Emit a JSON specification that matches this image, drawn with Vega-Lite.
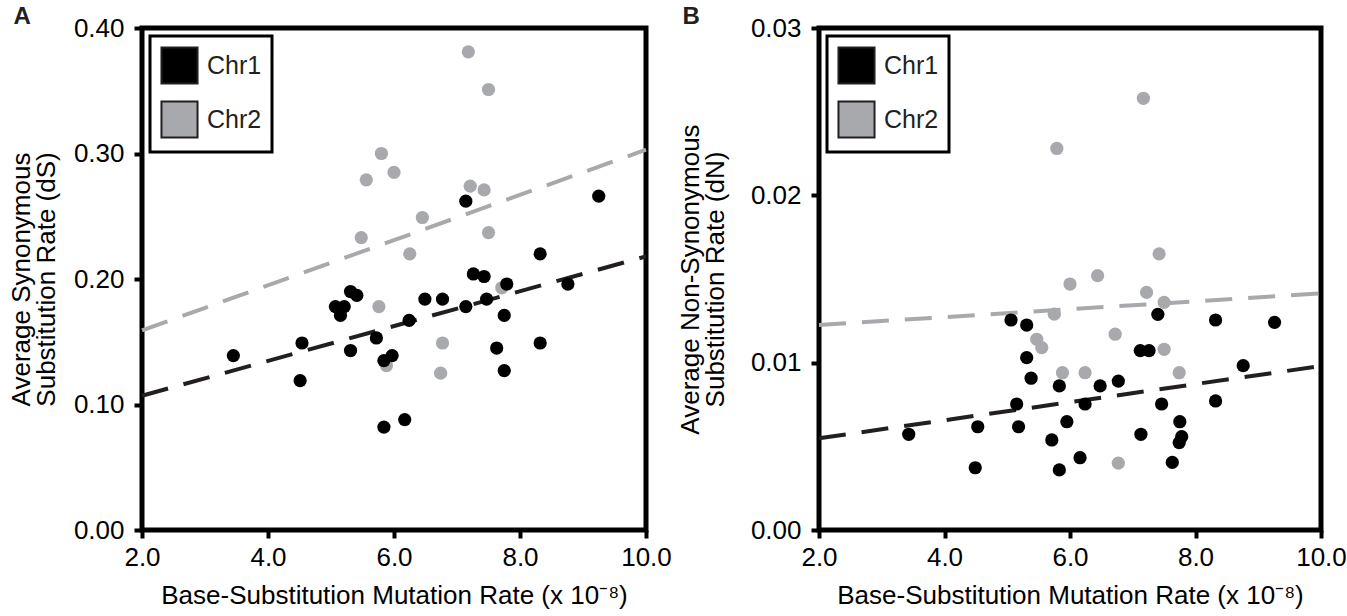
{
  "$schema": "https://vega.github.io/schema/vega-lite/v6.json",
  "padding": {"left": 5, "top": 2, "right": 2, "bottom": 2},
  "background": "white",
  "spacing": 0,
  "config": {
    "font": "Liberation Sans",
    "view": {"stroke": "black", "strokeWidth": 5},
    "axis": {
      "domain": false, "grid": false, "ticks": true, "tickSize": 8, "tickWidth": 4, "tickColor": "black",
      "labelFont": "Liberation Sans", "labelFontSize": 26, "labelColor": "black", "labelFlush": false, "labelPadding": 6,
      "titleFont": "Liberation Sans", "titleFontSize": 26, "titleFontWeight": "normal", "titleColor": "black", "titleLineHeight": 25
    },
    "axisY": {"labelPadding": 10},
    "legend": {
      "orient": "top-left", "offset": 8, "strokeColor": "black", "strokeWidth": 3, "fillColor": "white", "padding": 10,
      "symbolType": "square", "symbolSize": 1300, "labelFont": "Liberation Sans", "labelFontSize": 25, "labelColor": "#231f20",
      "rowPadding": 9, "labelOffset": 8, "symbolStrokeWidth": 2, "symbolStrokeColor": "#231f20", "symbolOpacity": 1
    },
    "title": {"font": "Liberation Sans", "fontSize": 24, "fontWeight": "bold", "anchor": "start", "color": "#231f20"}
  },
  "resolve": {"scale": {"color": "independent"}, "legend": {"color": "independent"}},
  "hconcat": [
    {
      "width": 504, "height": 502,
      "title": {"text": "A", "offset": -14, "dx": 5},
      "layer": [
        {
          "data": {"values": [
            {"x": 2, "y": 0.159, "chr": "Chr2"}, {"x": 10, "y": 0.303, "chr": "Chr2"},
            {"x": 2, "y": 0.107, "chr": "Chr1"}, {"x": 10, "y": 0.218, "chr": "Chr1"}
          ]},
          "transform": [{"filter": "datum.chr === 'Chr2'"}],
          "mark": {"type": "line", "strokeWidth": 4, "strokeDash": [27, 16], "strokeCap": "butt", "color": "#a7a9ac"},
          "encoding": {
            "x": {"field": "x", "type": "quantitative"},
            "y": {"field": "y", "type": "quantitative"}
          }
        },
        {
          "data": {"values": [
            {"x": 2, "y": 0.159, "chr": "Chr2"}, {"x": 10, "y": 0.303, "chr": "Chr2"},
            {"x": 2, "y": 0.107, "chr": "Chr1"}, {"x": 10, "y": 0.218, "chr": "Chr1"}
          ]},
          "transform": [{"filter": "datum.chr === 'Chr1'"}],
          "mark": {"type": "line", "strokeWidth": 4, "strokeDash": [27, 16], "strokeCap": "butt", "color": "#231f20"},
          "encoding": {
            "x": {"field": "x", "type": "quantitative"},
            "y": {"field": "y", "type": "quantitative"}
          }
        },
        {
          "data": {"values": [
            {"x": 7.18, "y": 0.381, "chr": "Chr2"}, {"x": 7.50, "y": 0.351, "chr": "Chr2"}, {"x": 5.80, "y": 0.300, "chr": "Chr2"},
            {"x": 5.56, "y": 0.279, "chr": "Chr2"}, {"x": 6.00, "y": 0.285, "chr": "Chr2"}, {"x": 7.21, "y": 0.274, "chr": "Chr2"},
            {"x": 7.43, "y": 0.271, "chr": "Chr2"}, {"x": 6.45, "y": 0.249, "chr": "Chr2"}, {"x": 5.48, "y": 0.233, "chr": "Chr2"},
            {"x": 7.50, "y": 0.237, "chr": "Chr2"}, {"x": 6.25, "y": 0.220, "chr": "Chr2"}, {"x": 7.71, "y": 0.193, "chr": "Chr2"},
            {"x": 5.76, "y": 0.178, "chr": "Chr2"}, {"x": 6.77, "y": 0.149, "chr": "Chr2"}, {"x": 6.74, "y": 0.125, "chr": "Chr2"},
            {"x": 5.88, "y": 0.131, "chr": "Chr2"},
            {"x": 7.14, "y": 0.262, "chr": "Chr1"}, {"x": 9.25, "y": 0.266, "chr": "Chr1"}, {"x": 8.32, "y": 0.220, "chr": "Chr1"},
            {"x": 7.26, "y": 0.204, "chr": "Chr1"}, {"x": 7.43, "y": 0.202, "chr": "Chr1"}, {"x": 7.79, "y": 0.196, "chr": "Chr1"},
            {"x": 8.76, "y": 0.196, "chr": "Chr1"}, {"x": 5.31, "y": 0.190, "chr": "Chr1"}, {"x": 5.41, "y": 0.187, "chr": "Chr1"},
            {"x": 6.49, "y": 0.184, "chr": "Chr1"}, {"x": 6.77, "y": 0.184, "chr": "Chr1"}, {"x": 7.47, "y": 0.184, "chr": "Chr1"},
            {"x": 7.14, "y": 0.178, "chr": "Chr1"}, {"x": 5.07, "y": 0.178, "chr": "Chr1"}, {"x": 5.21, "y": 0.178, "chr": "Chr1"},
            {"x": 5.15, "y": 0.171, "chr": "Chr1"}, {"x": 7.75, "y": 0.171, "chr": "Chr1"}, {"x": 6.24, "y": 0.167, "chr": "Chr1"},
            {"x": 5.72, "y": 0.153, "chr": "Chr1"}, {"x": 4.54, "y": 0.149, "chr": "Chr1"}, {"x": 3.45, "y": 0.139, "chr": "Chr1"},
            {"x": 5.31, "y": 0.143, "chr": "Chr1"}, {"x": 5.97, "y": 0.139, "chr": "Chr1"}, {"x": 5.84, "y": 0.135, "chr": "Chr1"},
            {"x": 7.63, "y": 0.145, "chr": "Chr1"}, {"x": 8.32, "y": 0.149, "chr": "Chr1"}, {"x": 7.75, "y": 0.127, "chr": "Chr1"},
            {"x": 4.51, "y": 0.119, "chr": "Chr1"}, {"x": 5.84, "y": 0.082, "chr": "Chr1"}, {"x": 6.17, "y": 0.088, "chr": "Chr1"}
          ]},
          "mark": {"type": "point", "filled": true, "shape": "circle", "size": 175, "opacity": 1},
          "encoding": {
            "x": {"field": "x", "type": "quantitative", "scale": {"domain": [2, 10], "nice": false, "zero": false},
                  "axis": {"values": [2, 4, 6, 8, 10], "format": ".1f", "title": "Base-Substitution Mutation Rate (x 10⁻⁸)", "titlePadding": 12}},
            "y": {"field": "y", "type": "quantitative", "scale": {"domain": [0, 0.4], "nice": false},
                  "axis": {"values": [0, 0.1, 0.2, 0.3, 0.4], "format": ".2f", "title": ["Average Synonymous", "Substitution Rate (dS)"], "titlePadding": 14}},
            "color": {"field": "chr", "type": "nominal", "scale": {"domain": ["Chr1", "Chr2"], "range": ["#000000", "#a7a9ac"]},
                      "legend": {"title": null}}
          }
        }
      ]
    },
    {
      "width": 502, "height": 502,
      "title": {"text": "B", "offset": -14, "dx": 5},
      "layer": [
        {
          "data": {"values": [
            {"x": 2, "y": 0.01225, "chr": "Chr2"}, {"x": 10, "y": 0.01414, "chr": "Chr2"},
            {"x": 2, "y": 0.00548, "chr": "Chr1"}, {"x": 10, "y": 0.00980, "chr": "Chr1"}
          ]},
          "transform": [{"filter": "datum.chr === 'Chr2'"}],
          "mark": {"type": "line", "strokeWidth": 4, "strokeDash": [27, 16], "strokeCap": "butt", "color": "#a7a9ac"},
          "encoding": {
            "x": {"field": "x", "type": "quantitative"},
            "y": {"field": "y", "type": "quantitative"}
          }
        },
        {
          "data": {"values": [
            {"x": 2, "y": 0.01225, "chr": "Chr2"}, {"x": 10, "y": 0.01414, "chr": "Chr2"},
            {"x": 2, "y": 0.00548, "chr": "Chr1"}, {"x": 10, "y": 0.00980, "chr": "Chr1"}
          ]},
          "transform": [{"filter": "datum.chr === 'Chr1'"}],
          "mark": {"type": "line", "strokeWidth": 4, "strokeDash": [27, 16], "strokeCap": "butt", "color": "#231f20"},
          "encoding": {
            "x": {"field": "x", "type": "quantitative"},
            "y": {"field": "y", "type": "quantitative"}
          }
        },
        {
          "data": {"values": [
            {"x": 7.17, "y": 0.0258, "chr": "Chr2"}, {"x": 5.79, "y": 0.0228, "chr": "Chr2"}, {"x": 7.42, "y": 0.0165, "chr": "Chr2"},
            {"x": 6.44, "y": 0.0152, "chr": "Chr2"}, {"x": 6.00, "y": 0.0147, "chr": "Chr2"}, {"x": 7.22, "y": 0.0142, "chr": "Chr2"},
            {"x": 7.50, "y": 0.0136, "chr": "Chr2"}, {"x": 5.75, "y": 0.0129, "chr": "Chr2"}, {"x": 5.47, "y": 0.0114, "chr": "Chr2"},
            {"x": 5.55, "y": 0.0109, "chr": "Chr2"}, {"x": 6.72, "y": 0.0117, "chr": "Chr2"}, {"x": 7.50, "y": 0.0108, "chr": "Chr2"},
            {"x": 5.88, "y": 0.0094, "chr": "Chr2"}, {"x": 6.24, "y": 0.0094, "chr": "Chr2"}, {"x": 7.74, "y": 0.0094, "chr": "Chr2"},
            {"x": 6.77, "y": 0.0040, "chr": "Chr2"},
            {"x": 7.40, "y": 0.01289, "chr": "Chr1"}, {"x": 5.06, "y": 0.01255, "chr": "Chr1"}, {"x": 5.31, "y": 0.01225, "chr": "Chr1"},
            {"x": 8.32, "y": 0.01255, "chr": "Chr1"}, {"x": 9.26, "y": 0.01241, "chr": "Chr1"}, {"x": 7.12, "y": 0.01072, "chr": "Chr1"},
            {"x": 7.26, "y": 0.01072, "chr": "Chr1"}, {"x": 5.31, "y": 0.01030, "chr": "Chr1"}, {"x": 8.76, "y": 0.00982, "chr": "Chr1"},
            {"x": 5.38, "y": 0.00907, "chr": "Chr1"}, {"x": 6.77, "y": 0.00890, "chr": "Chr1"}, {"x": 6.48, "y": 0.00861, "chr": "Chr1"},
            {"x": 5.83, "y": 0.00861, "chr": "Chr1"}, {"x": 5.15, "y": 0.00753, "chr": "Chr1"}, {"x": 6.24, "y": 0.00753, "chr": "Chr1"},
            {"x": 7.46, "y": 0.00753, "chr": "Chr1"}, {"x": 8.32, "y": 0.00771, "chr": "Chr1"}, {"x": 4.53, "y": 0.00617, "chr": "Chr1"},
            {"x": 5.18, "y": 0.00617, "chr": "Chr1"}, {"x": 5.95, "y": 0.00647, "chr": "Chr1"}, {"x": 7.75, "y": 0.00647, "chr": "Chr1"},
            {"x": 3.43, "y": 0.00572, "chr": "Chr1"}, {"x": 7.13, "y": 0.00572, "chr": "Chr1"}, {"x": 5.71, "y": 0.00538, "chr": "Chr1"},
            {"x": 7.78, "y": 0.00558, "chr": "Chr1"}, {"x": 7.74, "y": 0.00522, "chr": "Chr1"}, {"x": 6.16, "y": 0.00432, "chr": "Chr1"},
            {"x": 4.49, "y": 0.00372, "chr": "Chr1"}, {"x": 5.83, "y": 0.00359, "chr": "Chr1"}, {"x": 7.63, "y": 0.00404, "chr": "Chr1"}
          ]},
          "mark": {"type": "point", "filled": true, "shape": "circle", "size": 175, "opacity": 1},
          "encoding": {
            "x": {"field": "x", "type": "quantitative", "scale": {"domain": [2, 10], "nice": false, "zero": false},
                  "axis": {"values": [2, 4, 6, 8, 10], "format": ".1f", "title": "Base-Substitution Mutation Rate (x 10⁻⁸)", "titlePadding": 12}},
            "y": {"field": "y", "type": "quantitative", "scale": {"domain": [0, 0.03], "nice": false},
                  "axis": {"values": [0, 0.01, 0.02, 0.03], "format": ".2f", "title": ["Average Non-Synonymous", "Substitution Rate (dN)"], "titlePadding": 22}},
            "color": {"field": "chr", "type": "nominal", "scale": {"domain": ["Chr1", "Chr2"], "range": ["#000000", "#a7a9ac"]},
                      "legend": {"title": null}}
          }
        }
      ]
    }
  ]
}
